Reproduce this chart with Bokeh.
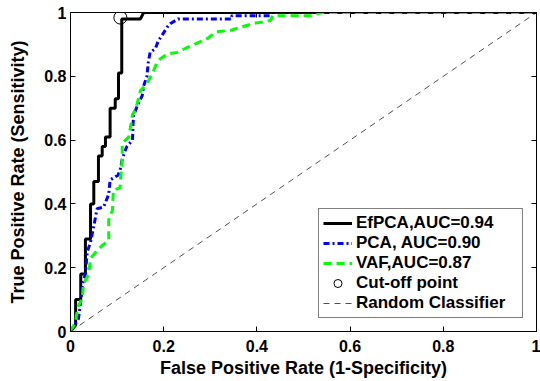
from bokeh.plotting import figure
from bokeh.models import Range1d, LinearAxis, FixedTicker, Legend, LegendItem, CustomLabelingPolicy
from bokeh.embed import file_html
from bokeh.resources import INLINE

# ROC curves
fpr_efpca = [0, 0.011, 0.011, 0.022, 0.022, 0.032, 0.032, 0.043, 0.043, 0.050, 0.050,
             0.060, 0.060, 0.068, 0.068, 0.075, 0.075, 0.085, 0.085, 0.096, 0.096,
             0.103, 0.103, 0.110, 0.110, 0.150, 0.157, 1.0]
tpr_efpca = [0, 0.02, 0.10, 0.10, 0.18, 0.18, 0.29, 0.29, 0.40, 0.40, 0.47,
             0.47, 0.55, 0.55, 0.58, 0.58, 0.61, 0.61, 0.70, 0.70, 0.73,
             0.73, 0.81, 0.81, 0.98, 0.98, 1.0, 1.0]

fpr_pca = [0, 0.017, 0.022, 0.026, 0.032, 0.036, 0.043, 0.050, 0.057, 0.071, 0.082,
           0.085, 0.102, 0.107, 0.111, 0.118, 0.121, 0.133, 0.135, 0.143, 0.154,
           0.157, 0.164, 0.167, 0.171, 0.182, 0.188, 0.197, 0.208, 0.214, 0.231,
           0.346, 0.346, 0.429, 0.429, 1.0]
tpr_pca = [0, 0.04, 0.095, 0.15, 0.18, 0.25, 0.28, 0.33, 0.385, 0.39, 0.43,
           0.475, 0.49, 0.51, 0.54, 0.57, 0.58, 0.60, 0.675, 0.706, 0.74,
           0.77, 0.80, 0.845, 0.876, 0.886, 0.91, 0.93, 0.955, 0.965, 0.98,
           0.98, 0.99, 0.99, 1.0, 1.0]

fpr_vaf = [0, 0.011, 0.015, 0.025, 0.028, 0.039, 0.043, 0.057, 0.068, 0.082, 0.082,
           0.090, 0.092, 0.106, 0.111, 0.111, 0.111, 0.125, 0.129, 0.133, 0.139,
           0.146, 0.150, 0.160, 0.167, 0.179, 0.186, 0.192, 0.208, 0.229, 0.250,
           0.293, 0.314, 0.343, 0.368, 0.391, 0.429, 0.434, 0.516, 0.540, 1.0]
tpr_vaf = [0, 0.03, 0.074, 0.105, 0.149, 0.18, 0.23, 0.253, 0.27, 0.285, 0.35,
           0.38, 0.443, 0.45, 0.54, 0.57, 0.59, 0.61, 0.643, 0.68, 0.695,
           0.73, 0.755, 0.77, 0.785, 0.82, 0.845, 0.854, 0.87, 0.875, 0.89,
           0.918, 0.94, 0.944, 0.955, 0.965, 0.975, 0.99, 0.99, 1.0, 1.0]

cutoff_fpr = [0.107]
cutoff_tpr = [0.984]

random_fpr = [0, 1]
random_tpr = [0, 1]

series_labels = ["EfPCA,AUC=0.94", "PCA, AUC=0.90", "VAF,AUC=0.87",
                 "Cut-off point", "Random Classifier"]

tick_values = [0, 0.2, 0.4, 0.6, 0.8, 1]
tick_labels = ["0", "0.2", "0.4", "0.6", "0.8", "1"]

FONT = "Liberation Sans"

p = figure(width=540, height=381, x_range=Range1d(0, 1), y_range=Range1d(0, 1),
           output_backend="svg", toolbar_location=None,
           min_border_left=70, min_border_right=3, min_border_top=12, min_border_bottom=50)
p.grid.visible = False
p.outline_line_color = "black"
p.background_fill_color = "white"
p.border_fill_color = "white"

overrides = {v: l for v, l in zip(tick_values, tick_labels)}
for ax in (p.xaxis[0], p.yaxis[0]):
    ax.ticker = FixedTicker(ticks=tick_values)
    ax.major_label_overrides = overrides
    ax.major_tick_in = 5
    ax.major_tick_out = 0
    ax.minor_tick_in = 0
    ax.minor_tick_out = 0
    ax.axis_line_color = "black"
    ax.major_tick_line_color = "black"
    ax.major_label_text_font = FONT
    ax.major_label_text_font_style = "bold"
    ax.major_label_text_font_size = "16px"
    ax.major_label_text_color = "black"
    ax.axis_label_text_font = FONT
    ax.axis_label_text_font_style = "bold"
    ax.axis_label_text_font_size = "18px"
    ax.axis_label_text_color = "black"

p.xaxis[0].axis_label = "False Positive Rate (1-Specificity)"
p.xaxis[0].major_label_standoff = 8
p.xaxis[0].axis_label_standoff = 3
p.yaxis[0].axis_label = "True Positive Rate (Sensitivity)"
p.yaxis[0].major_label_standoff = 4
p.yaxis[0].axis_label_standoff = 13

# box axes on top and right: tick marks only, no labels
for loc in ("above", "right"):
    ax = LinearAxis(ticker=FixedTicker(ticks=tick_values),
                    major_label_policy=CustomLabelingPolicy(code=""),
                    major_label_text_font_size="1px",
                    major_label_standoff=0,
                    major_tick_in=5, major_tick_out=0, minor_tick_in=0, minor_tick_out=0,
                    axis_line_color="black", major_tick_line_color="black")
    p.add_layout(ax, loc)

r_ef = p.line(fpr_efpca, tpr_efpca, line_color="black", line_width=3)
r_pca = p.line(fpr_pca, tpr_pca, line_color="#0000ff", line_width=3, line_dash="6 3 2 3")
r_vaf = p.line(fpr_vaf, tpr_vaf, line_color="#00ff00", line_width=3, line_dash="8 5")
r_cut = p.scatter(cutoff_fpr, cutoff_tpr, marker="circle", size=13,
                  fill_color=None, line_color="black", line_width=1)
r_rand = p.line(random_fpr, random_tpr, line_color="#222222", line_width=0.8, line_dash="6 5")

legend = Legend(items=[LegendItem(label=series_labels[0], renderers=[r_ef]),
                       LegendItem(label=series_labels[1], renderers=[r_pca]),
                       LegendItem(label=series_labels[2], renderers=[r_vaf]),
                       LegendItem(label=series_labels[3], renderers=[r_cut]),
                       LegendItem(label=series_labels[4], renderers=[r_rand])],
                location=(248, 13))
legend.label_text_font = FONT
legend.label_text_font_style = "bold"
legend.label_text_font_size = "17px"
legend.label_text_color = "black"
legend.border_line_color = "black"
legend.border_line_width = 1
legend.background_fill_color = "white"
legend.background_fill_alpha = 1
legend.padding = 4
legend.spacing = 0
legend.margin = 0
legend.glyph_width = 29
legend.glyph_height = 20
legend.label_height = 20
legend.label_width = 162
legend.label_standoff = 4
p.add_layout(legend, "center")

open("out.html", "w").write(file_html(p, INLINE))
